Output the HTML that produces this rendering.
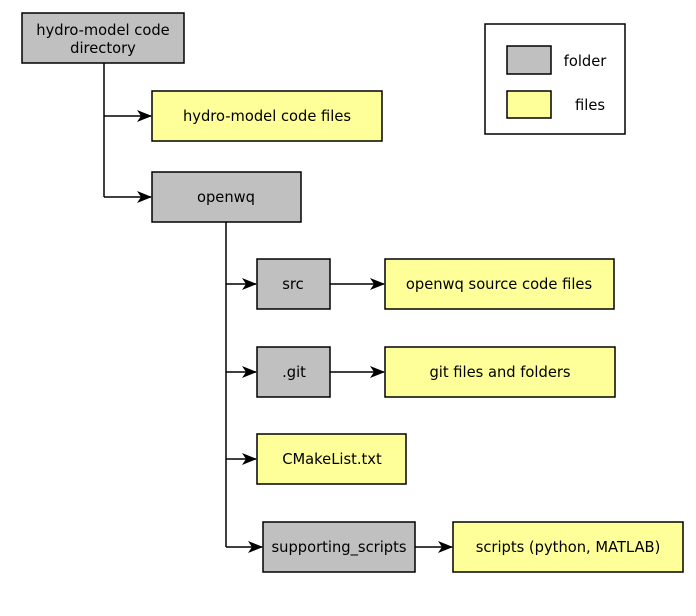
<!DOCTYPE html>
<html><head><meta charset="utf-8"><style>
html,body{margin:0;padding:0;background:#fff;}
svg text{font-family:"DejaVu Sans","Liberation Sans",sans-serif;font-size:14.7px;fill:#000;}
</style></head><body>
<svg width="696" height="611" viewBox="0 0 696 611" xmlns="http://www.w3.org/2000/svg">
<defs><marker id="a" markerWidth="15" markerHeight="12" refX="14" refY="6" orient="auto" markerUnits="userSpaceOnUse"><path d="M0,0 L15,6 L0,12 L4,6 Z" fill="#000"/></marker></defs>
<g stroke="#000" stroke-width="1.5" fill="none">
<path d="M104,63 V197"/>
<path d="M104,116 H151" marker-end="url(#a)"/>
<path d="M104,197 H151" marker-end="url(#a)"/>
<path d="M226,222 V547"/>
<path d="M226,284 H256" marker-end="url(#a)"/>
<path d="M226,372 H256" marker-end="url(#a)"/>
<path d="M226,459 H256" marker-end="url(#a)"/>
<path d="M226,547 H262" marker-end="url(#a)"/>
<path d="M330,284 H384" marker-end="url(#a)"/>
<path d="M330,372 H384" marker-end="url(#a)"/>
<path d="M415,547 H452" marker-end="url(#a)"/>
</g>
<g stroke="#000" stroke-width="1.5">
<rect x="22" y="13" width="162" height="50" fill="#c0c0c0"/>
<rect x="152" y="91" width="230" height="50" fill="#ffff99"/>
<rect x="152" y="172" width="149" height="50" fill="#c0c0c0"/>
<rect x="257" y="259" width="73" height="50" fill="#c0c0c0"/>
<rect x="385" y="259" width="229" height="50" fill="#ffff99"/>
<rect x="257" y="347" width="73" height="50" fill="#c0c0c0"/>
<rect x="385" y="347" width="230" height="50" fill="#ffff99"/>
<rect x="257" y="434" width="149" height="50" fill="#ffff99"/>
<rect x="263" y="522" width="152" height="50" fill="#c0c0c0"/>
<rect x="453" y="522" width="230" height="50" fill="#ffff99"/>
<rect x="485" y="24" width="140" height="110" fill="#fff"/>
<rect x="507" y="46" width="44" height="28" fill="#c0c0c0"/>
<rect x="507" y="91" width="44" height="27" fill="#ffff99"/>
</g>
<g text-anchor="middle">
<text x="103" y="35">hydro-model code</text>
<text x="103" y="53">directory</text>
<text x="267" y="121">hydro-model code files</text>
<text x="226" y="202">openwq</text>
<text x="293" y="289">src</text>
<text x="499" y="289">openwq source code files</text>
<text x="294" y="377">.git</text>
<text x="500" y="377">git files and folders</text>
<text x="332" y="464">CMakeList.txt</text>
<text x="339" y="552">supporting_scripts</text>
<text x="568" y="552">scripts (python, MATLAB)</text>
<text x="585" y="66">folder</text>
<text x="590" y="110">files</text>
</g>
</svg>
</body></html>
